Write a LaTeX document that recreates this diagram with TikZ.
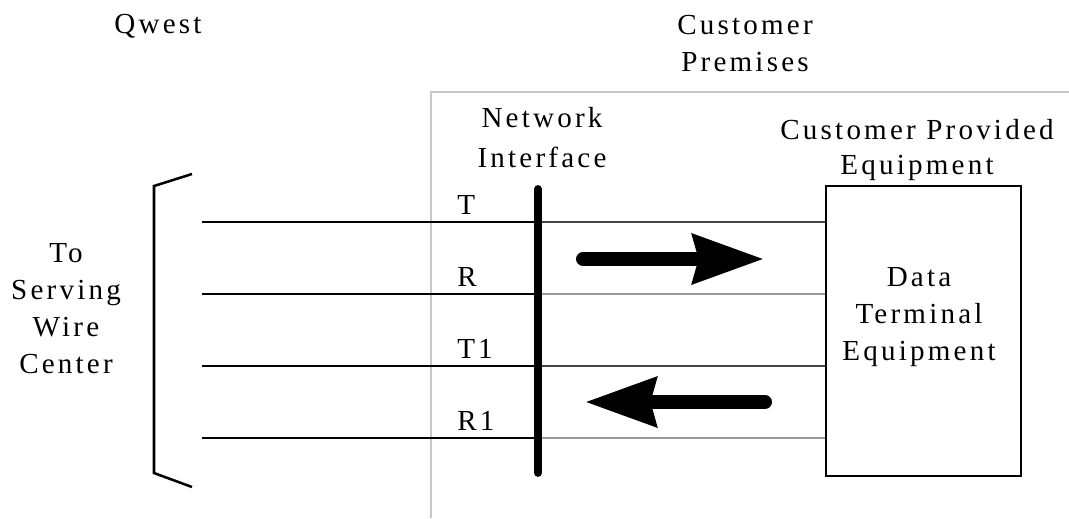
\documentclass[tikz,border=0pt]{standalone}
\usepackage{fontspec}
\setmainfont{Liberation Serif}[LetterSpace=11]
\usetikzlibrary{arrows.meta}

\begin{document}
\begin{tikzpicture}[x=0.75pt,y=-0.75pt,
  lbl/.style={font=\fontsize{21.8}{27.75}\selectfont,inner sep=0pt,align=center,anchor=base},
  wire/.style={line width=2pt},
  flow/.style={line width=10.5pt,line cap=round,-{Stealth[length=53pt,width=36pt,inset=4pt]}}]
  \useasboundingbox (0,0) rectangle (1069,518);
  % premises boundary
  \draw[line width=1.6pt,black!22] (431,518) -- (431,92) -- (1069,92);
  % headings (base = last line)
  \node[lbl] (qwest) at (158,33) {Qwest};
  \node[lbl] (cp) at (745,71) {Customer\\Premises};
  \node[lbl] (nilbl) at (542,167) {Network\\[2.2pt]Interface};
  \node[lbl] (cpe) at (917,174) {Customer Provided\\[-1.5pt]Equipment};
  \node[lbl] (swc) at (66,373) {To\\Serving\\Wire\\Center};
  % terminal box
  \node[draw,line width=2.2pt,inner sep=0pt,minimum width=146.25pt,minimum height=217.5pt] (dte) at (923.5,331) {};
  \node[lbl] (dtelbl) at (919,360) {Data\\Terminal\\Equipment};
  % network interface bar
  \coordinate (ni) at (538,189);
  % tip and ring pairs
  \foreach \y/\lab/\col [count=\i] in {222/T/black!73,294/R/black!40,366/T1/black!73,438/R1/black!40}{
    \coordinate (w\i) at (202,\y);
    \draw[wire] (w\i) -- (w\i -| ni);
    \draw[wire,\col] (w\i -| ni) -- (w\i -| dte.west);
    \node[lbl,anchor=base west] (l\i) at (457,\y-8) {\lab};
  }
  \draw[line width=5.8pt,line cap=round] (ni) -- (538,473);
  % bracket toward the wire center
  \draw[line width=1.9pt] (192,174) -- (154,186) -- (154,473) -- (192,487);
  % transmit / receive direction
  \coordinate (txa) at (583,259);
  \coordinate (txb) at (764,259);
  \coordinate (rxa) at (765,402);
  \coordinate (rxb) at (585,402);
  \draw[flow] (txa) -- (txb);
  \draw[flow] (rxa) -- (rxb);
\end{tikzpicture}
\end{document}
